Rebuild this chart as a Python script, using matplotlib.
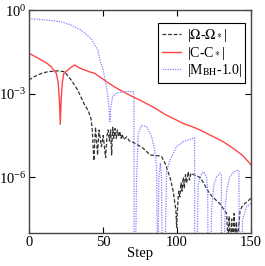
import matplotlib
matplotlib.use('Agg')
import matplotlib.pyplot as plt
import numpy as np

plt.rcParams['font.family'] = ['Liberation Serif', 'DejaVu Serif']
plt.rcParams['mathtext.fontset'] = 'stix'

# |Omega - Omega_*|  (log10 values)
om_step = [0, 4, 8, 12.8, 19.6, 24, 28.6, 33, 37.6, 40, 42, 42.8, 43.9, 45, 46.4,
           47.3, 48.2, 49, 50.2, 51, 51.8, 52.8, 53.6, 54.4, 55.2, 55.9, 56.6, 57.4,
           58.2, 59, 59.8, 60.6, 61.4, 62.2, 63, 64, 66, 68, 70.5, 74, 77, 80, 82,
           86, 89.6, 92, 95.3, 97.5, 99.3, 99.8, 100.5, 101.2, 102, 102.8, 103.5,
           104.3, 105, 105.8, 106.6, 107.6, 108.5, 109.5, 111, 113, 115.5, 118, 120,
           122.3, 124, 126, 129, 131, 133.6, 134.5, 135.3, 136.2, 137, 137.8, 138.6,
           139.4, 140.2, 141, 142.6, 144, 146, 148, 150]
om_log = [-2.51, -2.38, -2.28, -2.21, -2.18, -2.21, -2.51, -2.87, -3.4, -3.6, -3.9,
          -4.3, -5.4, -4.2, -5.2, -4.3, -4.6, -4.9, -4.5, -4.9, -5.3, -4.5, -4.3,
          -4.7, -4.3, -5.2, -4.2, -4.6, -4.25, -4.6, -4.3, -4.55, -4.35, -4.6, -4.45,
          -4.65, -4.55, -4.7, -4.75, -4.85, -4.95, -5.1, -5.2, -5.22, -5.25, -5.5,
          -6.0, -6.5, -7.2, -7.8, -7.0, -6.5, -6.7, -6.2, -6.5, -6.0, -6.4, -5.9,
          -6.2, -5.8, -6.1, -5.85, -5.9, -5.95, -6.0, -6.2, -6.4, -6.6, -6.7, -6.8,
          -6.95, -7.1, -7.3, -8.3, -7.4, -8.5, -7.5, -8.4, -7.3, -8.2, -7.6, -8.3,
          -7.2, -7.05, -6.93, -6.85, -6.75]

# |C - C_*|
c_step = [0, 4, 8.3, 12, 15, 18.5, 19.8, 20.6, 21.2, 21.8, 22.6, 23.6, 26.4, 28.5,
          30.9, 34, 37.6, 41.2, 44.4, 48, 52.5, 58, 63.7, 69, 75, 81.8, 86.3, 90, 93,
          98, 104.3, 110, 115.5, 121, 126.8, 132, 138, 144, 149.3, 150]
c_log = [-1.55, -1.66, -1.79, -1.9, -2.03, -2.27, -2.6, -3.2, -4.1, -3.2, -2.6,
         -2.27, -2.15, -2.05, -1.97, -2.07, -2.15, -2.22, -2.27, -2.4, -2.57, -2.76,
         -2.93, -3.08, -3.23, -3.42, -3.55, -3.68, -3.77, -3.9, -4.07, -4.18, -4.3,
         -4.45, -4.6, -4.75, -4.96, -5.2, -5.5, -5.55]

# |M_BH - 1.0|
m_step = [0, 6, 12.8, 21.8, 28.6, 35.3, 42, 46.6, 48, 50, 51.4, 52.2, 53.4, 54.1,
          54.7, 55.3, 56.5, 59.2, 63.7, 67, 70.5, 70.9, 71.1, 71.8, 72.7, 73.9, 76.1,
          79.5, 82.9, 85, 86.3, 87, 87.8, 88.8, 89.6, 90.2, 91.6, 93, 95.3, 99.8,
          104.3, 108, 111, 111.9, 112.1, 113.3, 114.3, 115.5, 117.8, 120, 120.8,
          121.1, 122.5, 123.4, 124.8, 126.8, 129, 130, 130.2, 131.8, 132.5, 133.8,
          135.8, 138.5, 141.4, 141.9, 142.1, 143.6, 144.3, 147, 148.8, 150]
m_log = [-0.3, -0.33, -0.36, -0.42, -0.54, -0.72, -1.02, -1.43, -1.79, -2.1, -2.5,
         -2.7, -3.1, -3.5, -4.0, -3.5, -3.11, -2.97, -2.93, -2.92, -2.93, -2.95, -10,
         -10, -6.1, -4.42, -4.13, -4.19, -4.54, -5.02, -5.62, -10, -6.0, -5.5, -6.0,
         -10, -10, -5.8, -5.38, -4.9, -4.72, -4.65, -4.6, -4.58, -10, -10, -6.3,
         -5.98, -5.8, -5.98, -6.5, -10, -10, -7.17, -6.3, -5.98, -5.86, -5.9, -10,
         -10, -7.17, -6.4, -5.98, -5.8, -5.74, -5.8, -10, -10, -7.53, -7.05, -7.0,
         -6.95]

fig = plt.figure(figsize=(2.65, 2.66), dpi=100)
ax = fig.add_axes([0.109, 0.124, 0.838, 0.838])

ax.semilogy(om_step, 10 ** np.array(om_log), color='#333333', ls=(0, (3, 1.5)),
            lw=0.9, label=r'|$\Omega$-$\Omega_*$|')
ax.semilogy(c_step, 10 ** np.array(c_log), color='#ff4545', lw=1.0,
            label=r'|C-C$_*$|')
ax.semilogy(m_step, 10 ** np.array(m_log), color='#8080ff', ls=(0, (1, 1)),
            lw=0.9, label=r'|M$_{\rm BH}$-1.0|')

ax.set_xlim(0, 150)
ax.set_ylim(1e-8, 1e0)
ax.set_xticks([0, 50, 100, 150])
ax.set_yticks([1e0, 1e-3, 1e-6])
ax.minorticks_off()
ax.tick_params(direction='in', top=True, right=True, length=4.5, width=0.8,
               labelsize=10.5, pad=2)
ax.set_xlabel('Step', fontsize=10.5, labelpad=-1)
for s in ax.spines.values():
    s.set_linewidth(1.0)
    s.set_color('#444444')

leg = ax.legend(loc='upper right', bbox_to_anchor=(0.975, 0.94), fontsize=10,
                fancybox=False, edgecolor='black', framealpha=1,
                handlelength=1.4, handletextpad=0.4, labelspacing=0.05,
                borderpad=0.25, borderaxespad=0)
leg.get_frame().set_linewidth(0.8)

fig.savefig('out.png', dpi=100)
